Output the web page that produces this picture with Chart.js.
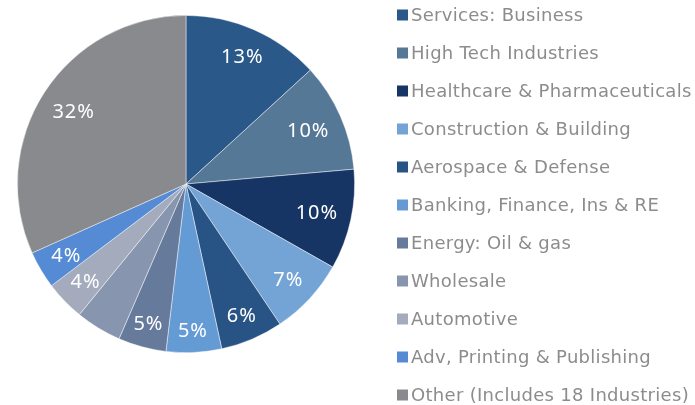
<!DOCTYPE html>
<html>
<head>
<meta charset="utf-8">
<script src="https://cdn.jsdelivr.net/npm/chart.js@4.4.1/dist/chart.umd.min.js"></script>
<style>
  html, body { margin: 0; padding: 0; background: #ffffff; overflow: hidden; }
  #wrap { width: 695px; height: 405px; position: relative; }
</style>
</head>
<body>
<div id="wrap"><canvas id="c" width="695" height="405"></canvas></div>
<script>
const categories = [
  'Services: Business',
  'High Tech Industries',
  'Healthcare & Pharmaceuticals',
  'Construction & Building',
  'Aerospace & Defense',
  'Banking, Finance, Ins & RE',
  'Energy: Oil & gas',
  'Wholesale',
  'Automotive',
  'Adv, Printing & Publishing',
  'Other (Includes 18 Industries)'
];
const shares = [13.2, 10.4, 9.6, 7.4, 6.0, 5.3, 4.6, 4.4, 3.8, 3.6, 31.7];
const unlabeled = ['Wholesale'];
const colors = [
  '#2a5889', '#557897', '#173564', '#74a4d6', '#285385',
  '#659bd4', '#667a9c', '#8895af', '#a3abbd', '#558bd4', '#898a8d'
];

const sliceLabels = {
  id: 'sliceLabels',
  afterDatasetsDraw(chart) {
    const ctx = chart.ctx;
    const meta = chart.getDatasetMeta(0);
    ctx.save();
    ctx.font = 'normal 400 20px "Noto Sans"';
    ctx.fillStyle = '#ffffff';
    ctx.textAlign = 'center';
    ctx.textBaseline = 'middle';
    try { ctx.letterSpacing = '1px'; } catch (e) {}
    meta.data.forEach((arc, i) => {
      if (unlabeled.includes(chart.data.labels[i])) return;
      const p = arc.getProps(['x', 'y', 'startAngle', 'endAngle', 'outerRadius'], true);
      const mid = (p.startAngle + p.endAngle) / 2;
      const v = chart.data.datasets[0].data[i];
      const txt = Math.round(v) + '%';
      const halfW = ctx.measureText(txt).width / 2;
      const halfH = 9;
      const c = Math.cos(mid), s = Math.sin(mid);
      const extent = Math.abs(c) * halfW + Math.abs(s) * halfH;
      const r = p.outerRadius - 12 - extent;
      ctx.fillText(txt, p.x + c * r, p.y + s * r + 1);
    });
    ctx.restore();
  }
};

const sideLegend = {
  id: 'sideLegend',
  afterDraw(chart) {
    const ctx = chart.ctx;
    const ds = chart.data.datasets[0];
    ctx.save();
    ctx.font = '18px "DejaVu Sans"';
    ctx.textAlign = 'left';
    ctx.textBaseline = 'middle';
    try { ctx.letterSpacing = '0.3px'; } catch (e) {}
    chart.data.labels.forEach((lab, i) => {
      const cy = 15 + i * 38;
      ctx.fillStyle = ds.backgroundColor[i];
      ctx.fillRect(397, cy - 5.5, 11, 11);
      ctx.fillStyle = '#8c8c8c';
      ctx.fillText(lab, 411, cy + 1);
    });
    ctx.restore();
  }
};

new Chart(document.getElementById('c'), {
  type: 'pie',
  data: {
    labels: categories,
    datasets: [{
      data: shares,
      backgroundColor: colors,
      borderColor: 'rgba(255,255,255,0.6)',
      borderWidth: 0.75
    }]
  },
  options: {
    responsive: false,
    animation: false,
    layout: { padding: { left: 17, top: 15, right: 340, bottom: 52 } },
    plugins: {
      legend: { display: false },
      tooltip: { enabled: false }
    }
  },
  plugins: [sliceLabels, sideLegend]
});
</script>
</body>
</html>
